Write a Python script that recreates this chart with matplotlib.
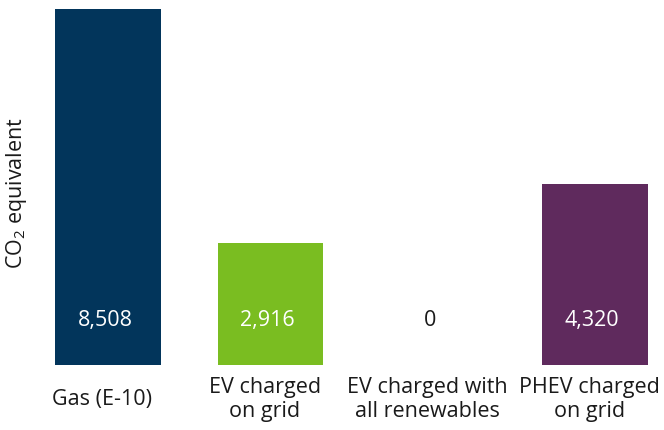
import matplotlib
matplotlib.use("Agg")
import matplotlib.pyplot as plt
import numpy as np

categories = ["Gas (E-10)", "EV charged\non grid", "EV charged with\nall renewables", "PHEV charged\non grid"]
values = [8508, 2916, 0, 4320]
value_labels = ["8,508", "2,916", "0", "4,320"]
colors = ["#02355b", "#7abd21", "#ffffff", "#5f2a5d"]
label_colors = ["white", "white", "#1a1a1a", "white"]

plt.rcParams['font.family'] = ['Open Sans', 'DejaVu Sans']
plt.rcParams['mathtext.default'] = 'regular'

fig = plt.figure(figsize=6.64 * np.array([1, 430 / 664]), dpi=100)
W, H = 664, 430
left_px, right_px = 35, 660
base_px, top_px = 364.7, 9.0
ymax = max(values)
ax = fig.add_axes([left_px / W, (H - base_px) / H, (right_px - left_px) / W, (base_px - top_px) / H])

x = np.arange(len(categories))
ax.bar(x, values, width=0.65, color=colors)
ax.set_xlim(-0.45, 3.4)
ax.set_ylim(0, ymax)

for xi, lab, c in zip(x, value_labels, label_colors):
    ax.annotate(lab, xy=(xi, 0), xytext=(-2, 32), textcoords="offset points",
                ha="center", va="center", fontsize=15.5, color=c)

for xi, cat in zip(x, categories):
    ax.annotate(cat, xy=(xi, 0), xytext=(-4, -25), textcoords="offset points",
                ha="center", va="center", multialignment="center",
                fontsize=15.5, color="#1a1a1a", linespacing=1.15,
                annotation_clip=False)

ax.set_xticks([])
ax.set_yticks([])
for s in ax.spines.values():
    s.set_visible(False)

fig.text(17 / W, 1 - 193 / H, "CO$_2$ equivalent", rotation=90, ha="center", va="center",
         fontsize=15.5, color="#1a1a1a")

fig.savefig("out.png", dpi=100)
